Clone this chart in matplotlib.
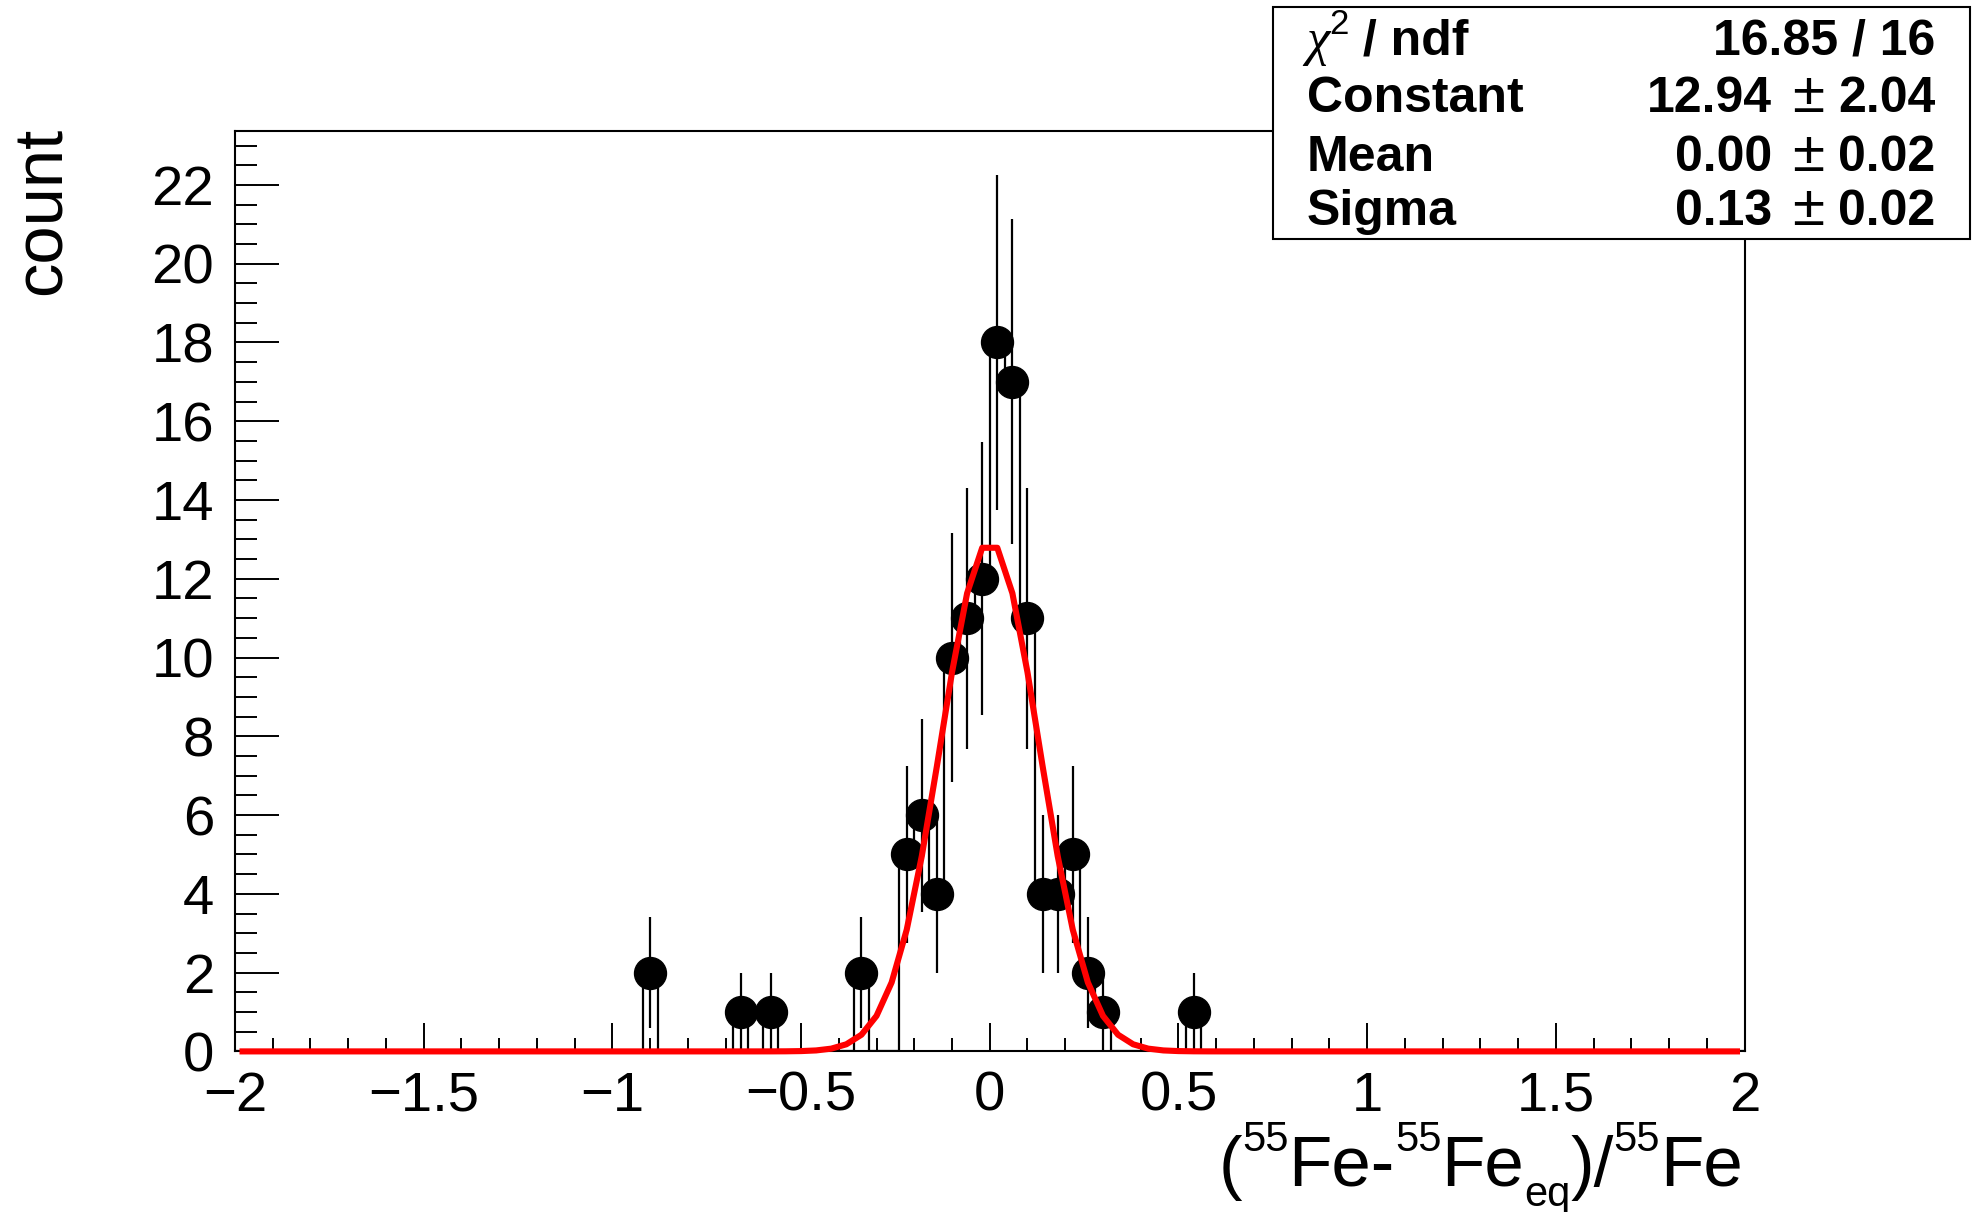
import numpy as np
import matplotlib
matplotlib.use("Agg")
import matplotlib.pyplot as plt
from matplotlib.patches import Rectangle
from matplotlib.ticker import MultipleLocator

plt.rcParams['font.family'] = ['Liberation Sans', 'DejaVu Sans']

# ---------------- data ----------------
bin_edges_range = (-2.0, 2.0)
n_bins = 100
bin_centers = [-0.90, -0.66, -0.58, -0.34, -0.22, -0.18, -0.14, -0.10, -0.06, -0.02,
               0.02, 0.06, 0.10, 0.14, 0.18, 0.22, 0.26, 0.30, 0.54]
counts = [2, 1, 1, 2, 5, 6, 4, 10, 11, 12,
          18, 17, 11, 4, 4, 5, 2, 1, 1]

fit_constant = 12.94
fit_mean = 0.00
fit_sigma = 0.13

xtick_values = [-2, -1.5, -1, -0.5, 0, 0.5, 1, 1.5, 2]
xtick_labels = ['\u22122', '\u22121.5', '\u22121', '\u22120.5', '0', '0.5', '1', '1.5', '2']
ytick_values = [0, 2, 4, 6, 8, 10, 12, 14, 16, 18, 20, 22]
ytick_labels = ['0', '2', '4', '6', '8', '10', '12', '14', '16', '18', '20', '22']

stat_names = ['Constant', 'Mean', 'Sigma']
stat_values = ['12.94', '0.00', '0.13']
stat_errors = ['2.04', '0.02', '0.02']
chi2_text = '16.85 / 16'

# ---------------- figure ----------------
W, H = 1972, 1212
fig = plt.figure(figsize=(W / 100, H / 100), dpi=100)
fig.patch.set_facecolor('white')

left, right, top, bottom = 235, 1744.5, 131, 1051.4
ax = fig.add_axes([left / W, 1 - bottom / H, (right - left) / W, (bottom - top) / H])

edges = np.linspace(bin_edges_range[0], bin_edges_range[1], n_bins + 1)
bw = edges[1] - edges[0]
full = np.zeros(n_bins)
idx = np.round((np.array(bin_centers) - edges[0]) / bw - 0.5).astype(int)
full[idx] = counts

ax.stairs(full, edges, color='black', lw=1.6, zorder=2)
c = np.array(counts, dtype=float)
ax.errorbar(bin_centers, c, yerr=np.sqrt(c), fmt='o', color='black', ms=23,
            elinewidth=1.6, capsize=0, zorder=3)

fx = edges[:-1] + bw / 2
fy = fit_constant * np.exp(-0.5 * ((fx - fit_mean) / fit_sigma) ** 2)
ax.plot(fx, fy, color='#ff0000', lw=4.4, zorder=4, clip_on=False)

ax.set_xlim(-2, 2)
ax.set_ylim(0, 23.37)
ax.set_xticks(xtick_values)
ax.set_xticklabels(xtick_labels)
ax.set_yticks(ytick_values)
ax.set_yticklabels(ytick_labels)
ax.xaxis.set_minor_locator(MultipleLocator(0.1))
ax.yaxis.set_minor_locator(MultipleLocator(0.5))
ax.tick_params(axis='x', which='major', direction='in', length=20, width=1.4,
               labelsize=40.5, pad=14, top=False)
ax.tick_params(axis='x', which='minor', direction='in', length=9.7, width=1.4, top=False)
ax.tick_params(axis='y', which='major', direction='in', length=32, width=1.4,
               labelsize=40.5, pad=15, right=False)
ax.tick_params(axis='y', which='minor', direction='in', length=15.8, width=1.4, right=False)
for s in ax.spines.values():
    s.set_linewidth(1.5)

renderer = fig.canvas.get_renderer()


def draw_pieces(x_px, y_px, pieces, align='left', zorder=11):
    objs, widths = [], []
    for s, size, dy, kw in pieces:
        t = fig.text(0, 0, s, fontsize=size, ha='left', va='baseline', zorder=zorder, **kw)
        widths.append(t.get_window_extent(renderer).width)
        objs.append(t)
    total = sum(widths)
    x0 = x_px - total if align == 'right' else x_px
    for t, w, (s, size, dy, kw) in zip(objs, widths, pieces):
        t.set_position((x0 / W, 1 - (y_px - dy) / H))
        x0 += w


# axis titles
fig.text(75 / W, 1 - 127 / H, 'count', rotation=90, ha='right', va='top', fontsize=49.5)
draw_pieces(1743, 1186, [
    ('(', 51, 0, {}), ('55', 30, 35, {}), ('Fe-', 51, 0, {}), ('55', 30, 35, {}),
    ('Fe', 51, 0, {}), ('eq', 30, -20, {}), (')/', 51, 0, {}), ('55', 30, 35, {}),
    ('Fe', 51, 0, {})], align='right')

# stats box
fig.add_artist(Rectangle((1273 / W, 1 - 239 / H), (1970 - 1273) / W, (239 - 7) / H,
                         transform=fig.transFigure, facecolor='white',
                         edgecolor='black', lw=1.5, zorder=10))
baselines = [55, 112, 171, 225]
fs = 36
bold = {'fontweight': 'bold'}
draw_pieces(1306, baselines[0], [
    ('\u03c7', 38, 0, {'family': ['Liberation Serif'], 'style': 'italic'}),
    ('2', 25, 21, {}),
    (' / ndf', fs, 0, bold)])
fig.text(1935 / W, 1 - baselines[0] / H, chi2_text, ha='right', va='baseline',
         fontsize=fs, fontweight='bold', zorder=11)
for name, val, err, yb in zip(stat_names, stat_values, stat_errors, baselines[1:]):
    yy = 1 - yb / H
    fig.text(1307 / W, yy, name, ha='left', va='baseline', fontsize=fs, fontweight='bold', zorder=11)
    fig.text(1772 / W, yy, val, ha='right', va='baseline', fontsize=fs, fontweight='bold', zorder=11)
    fig.text(1808 / W, yy, '\u00b1', ha='center', va='baseline', fontsize=42, zorder=11)
    fig.text(1935 / W, yy, err, ha='right', va='baseline', fontsize=fs, fontweight='bold', zorder=11)

fig.savefig('out.png', dpi=100)
